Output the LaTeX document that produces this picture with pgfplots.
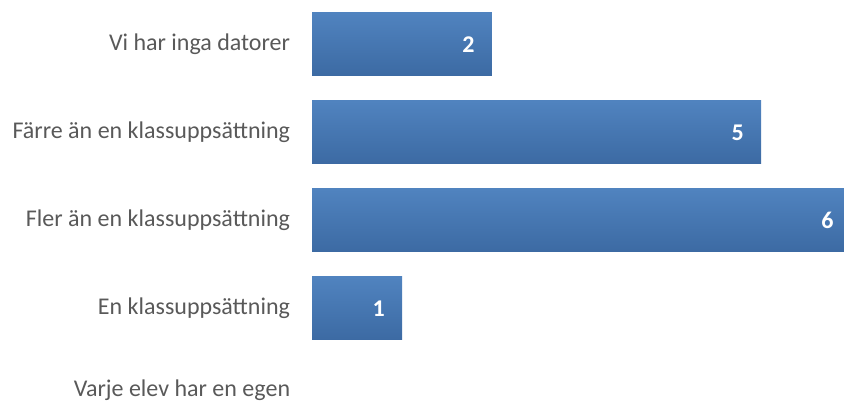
\documentclass[border=0pt]{standalone}
\usepackage{pgfplots}
\pgfplotsset{compat=1.18}
\usepackage{fontspec}
\setmainfont{Carlito}
\definecolor{bartop}{RGB}{80,131,191}
\definecolor{barbot}{RGB}{60,106,163}
\definecolor{labgray}{RGB}{89,89,89}
\begin{document}
\begin{tikzpicture}
\clip (0,0) rectangle (844pt,406pt);
\begin{axis}[
  at={(312.25pt,9.5pt)}, anchor=origin,
  x=89.75pt, y=88pt,
  xmin=0, xmax=6.2, ymin=-0.5, ymax=4.55,
  hide x axis,
  axis y line*=left,
  y axis line style={draw=none},
  major tick length=0pt,
  ytick={0.07,1,2,3,4},
  yticklabels={Varje elev har en egen, En klassuppsättning, Fler än en klassuppsättning, Färre än en klassuppsättning, Vi har inga datorer},
  yticklabel style={anchor=east, inner sep=0pt, xshift=-22pt, text=labgray, font=\fontsize{24}{28}\selectfont},
  xbar, bar width=63pt, bar shift=0pt,
  /pgf/number format/assume math mode=true,
  nodes near coords,
  nodes near coords style={anchor=east, inner sep=0pt, xshift=-17pt, text=white, font=\bfseries\fontsize{24}{28}\selectfont},
  clip=false,
]
\addplot[draw=none, top color=bartop, bottom color=barbot] coordinates {(1,1)};
\addplot[draw=none, top color=bartop, bottom color=barbot] coordinates {(6,2)};
\addplot[draw=none, top color=bartop, bottom color=barbot] coordinates {(5,3)};
\addplot[draw=none, top color=bartop, bottom color=barbot] coordinates {(2,4)};
\end{axis}
\end{tikzpicture}
\end{document}
